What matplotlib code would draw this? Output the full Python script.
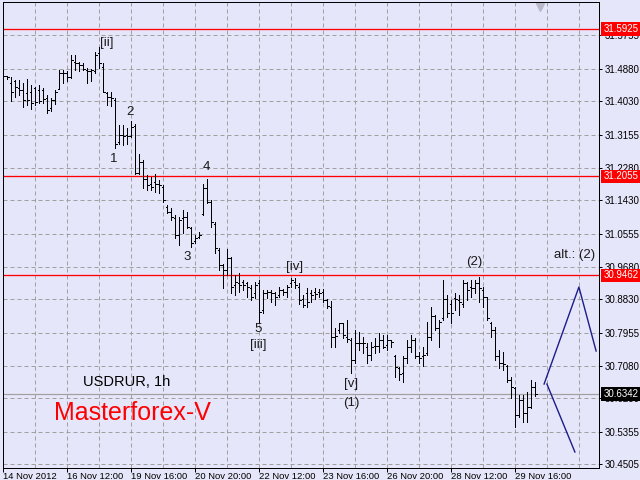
import matplotlib
matplotlib.use('Agg')
import matplotlib.pyplot as plt
import numpy as np

plt.rcParams['font.family'] = ['Liberation Sans', 'DejaVu Sans']

# ---- data (USDRUR, 1h bars) ----
opens = [31.472, 31.468, 31.450, 31.455, 31.437, 31.432, 31.424, 31.428, 31.437, 31.432,
         31.432, 31.411, 31.384, 31.406, 31.434, 31.478, 31.476, 31.467, 31.507, 31.502,
         31.498, 31.485, 31.481, 31.481, 31.529, 31.494, 31.424, 31.415, 31.406, 31.297,
         31.314, 31.314, 31.312, 31.338, 31.214, 31.244, 31.200, 31.187, 31.192, 31.187,
         31.179, 31.126, 31.113, 31.096, 31.052, 31.096, 31.100, 31.069, 31.037, 31.047,
         31.108, 31.174, 31.139, 31.082, 31.012, 30.973, 30.960, 30.991, 30.921, 30.925,
         30.929, 30.925, 30.912, 30.899, 30.925, 30.855, 30.899, 30.903, 30.899, 30.894,
         30.907, 30.903, 30.925, 30.929, 30.916, 30.883, 30.899, 30.900, 30.903, 30.903,
         30.903, 30.881, 30.864, 30.785, 30.802, 30.820, 30.785, 30.776, 30.724, 30.768,
         30.768, 30.759, 30.737, 30.761, 30.761, 30.776, 30.763, 30.776, 30.733, 30.702,
         30.689, 30.728, 30.759, 30.776, 30.733, 30.733, 30.741, 30.785, 30.838, 30.807,
         30.833, 30.885, 30.872, 30.886, 30.881, 30.872, 30.925, 30.916, 30.912, 30.925,
         30.907, 30.888, 30.820, 30.802, 30.733, 30.715, 30.708, 30.671, 30.649, 30.579,
         30.619, 30.584, 30.601, 30.654]
highs = [31.498, 31.469, 31.467, 31.459, 31.459, 31.450, 31.461, 31.446, 31.441, 31.446,
         31.437, 31.419, 31.411, 31.433, 31.485, 31.485, 31.481, 31.524, 31.524, 31.507,
         31.502, 31.489, 31.487, 31.533, 31.546, 31.502, 31.428, 31.428, 31.411, 31.341,
         31.341, 31.332, 31.352, 31.343, 31.265, 31.249, 31.209, 31.205, 31.212, 31.196,
         31.183, 31.131, 31.122, 31.104, 31.100, 31.117, 31.113, 31.074, 31.052, 31.061,
         31.187, 31.200, 31.144, 31.087, 31.017, 30.977, 31.014, 30.995, 30.947, 30.951,
         30.934, 30.929, 30.921, 30.929, 30.934, 30.907, 30.907, 30.907, 30.903, 30.916,
         30.909, 30.921, 30.938, 30.938, 30.925, 30.894, 30.912, 30.907, 30.912, 30.909,
         30.909, 30.883, 30.879, 30.807, 30.820, 30.822, 30.829, 30.781, 30.803, 30.798,
         30.785, 30.768, 30.772, 30.781, 30.794, 30.789, 30.789, 30.776, 30.737, 30.706,
         30.733, 30.776, 30.789, 30.781, 30.746, 30.759, 30.824, 30.864, 30.842, 30.829,
         30.935, 30.894, 30.881, 30.899, 30.894, 30.935, 30.929, 30.934, 30.934, 30.942,
         30.916, 30.890, 30.824, 30.811, 30.750, 30.746, 30.711, 30.680, 30.654, 30.632,
         30.632, 30.641, 30.671, 30.667]
lows = [31.463, 31.460, 31.404, 31.415, 31.419, 31.387, 31.393, 31.382, 31.393, 31.399,
        31.399, 31.373, 31.378, 31.396, 31.434, 31.450, 31.457, 31.463, 31.485, 31.481,
        31.485, 31.452, 31.457, 31.476, 31.489, 31.428, 31.393, 31.391, 31.279, 31.292,
        31.288, 31.292, 31.308, 31.212, 31.212, 31.174, 31.170, 31.170, 31.166, 31.161,
        31.139, 31.109, 31.091, 31.043, 31.026, 31.056, 31.069, 31.021, 31.030, 31.043,
        31.104, 31.135, 31.074, 31.004, 30.960, 30.912, 30.947, 30.899, 30.894, 30.903,
        30.907, 30.890, 30.881, 30.886, 30.820, 30.846, 30.886, 30.877, 30.868, 30.890,
        30.894, 30.890, 30.916, 30.912, 30.872, 30.864, 30.864, 30.877, 30.885, 30.890,
        30.877, 30.859, 30.759, 30.759, 30.794, 30.781, 30.772, 30.689, 30.715, 30.750,
        30.741, 30.715, 30.724, 30.741, 30.746, 30.754, 30.750, 30.759, 30.680, 30.671,
        30.667, 30.715, 30.746, 30.728, 30.715, 30.708, 30.737, 30.776, 30.803, 30.759,
        30.829, 30.837, 30.820, 30.855, 30.842, 30.864, 30.881, 30.890, 30.899, 30.877,
        30.864, 30.829, 30.785, 30.724, 30.702, 30.698, 30.667, 30.623, 30.549, 30.575,
        30.562, 30.562, 30.597, 30.628]
closes = [31.468, 31.467, 31.428, 31.441, 31.432, 31.406, 31.406, 31.397, 31.402, 31.404,
          31.408, 31.380, 31.406, 31.428, 31.476, 31.476, 31.467, 31.511, 31.502, 31.498,
          31.487, 31.481, 31.485, 31.524, 31.504, 31.428, 31.415, 31.411, 31.292, 31.314,
          31.312, 31.312, 31.336, 31.214, 31.244, 31.200, 31.183, 31.179, 31.187, 31.183,
          31.144, 31.113, 31.100, 31.052, 31.091, 31.100, 31.074, 31.030, 31.043, 31.052,
          31.174, 31.139, 31.087, 31.017, 30.973, 30.960, 30.991, 30.916, 30.929, 30.921,
          30.921, 30.916, 30.890, 30.921, 30.850, 30.899, 30.903, 30.899, 30.890, 30.907,
          30.903, 30.916, 30.934, 30.921, 30.881, 30.868, 30.877, 30.894, 30.897, 30.899,
          30.881, 30.865, 30.785, 30.787, 30.820, 30.790, 30.778, 30.724, 30.768, 30.768,
          30.768, 30.737, 30.759, 30.761, 30.776, 30.759, 30.776, 30.772, 30.706, 30.687,
          30.728, 30.759, 30.776, 30.733, 30.728, 30.737, 30.785, 30.838, 30.807, 30.824,
          30.885, 30.846, 30.846, 30.883, 30.877, 30.925, 30.907, 30.912, 30.925, 30.912,
          30.888, 30.833, 30.802, 30.733, 30.715, 30.713, 30.671, 30.654, 30.579, 30.619,
          30.584, 30.601, 30.654, 30.6342]

time_labels = ['14 Nov 2012', '16 Nov 12:00', '19 Nov 16:00', '20 Nov 20:00',
               '22 Nov 12:00', '23 Nov 16:00', '26 Nov 20:00', '28 Nov 12:00',
               '29 Nov 16:00']
price_ticks = [31.5755, 31.4880, 31.4030, 31.3155, 31.2280, 31.1430, 31.0555,
               30.9680, 30.8830, 30.7955, 30.7080, 30.6230, 30.5355, 30.4505]
red_levels = [31.5925, 31.2055, 30.9462]
bid_price = 30.6342

# forecast path (bar index, price)
fc_up_x = [135.2, 143.9, 148.2]
fc_up_y = [30.6607, 30.9153, 30.7474]
fc_dn_x = [135.9, 142.9]
fc_dn_y = [30.6607, 30.4823]

wave_labels = [('[ii]', 25.9, 31.556), ('2', 31.7, 31.3747), ('1', 27.7, 31.2513),
               ('4', 50.7, 31.2303), ('3', 45.9, 30.994), ('[iv]', 72.9, 30.9678),
               ('5', 63.7, 30.805), ('[iii]', 63.7, 30.763), ('[v]', 86.9, 30.660),
               ('(1)', 86.9, 30.611), ('(2)', 117.7, 30.981), ('alt.: (2)', 142.7, 30.9993)]

# ---- figure ----
BG = '#E6E6FA'
fig = plt.figure(figsize=(6.4, 4.8), dpi=100, facecolor=BG)
ax = fig.add_axes([2.5 / 640, 12 / 480, 596 / 640, 466 / 480])
ax.set_facecolor(BG)

n = len(opens)
x = np.arange(n)
px = 0.72  # one pixel in points

# grid
for gx in range(8, 149, 8):
    ax.axvline(gx, color='#A0A0A0', lw=px, ls=(0, (4, 3)), zorder=1)
for gy in price_ticks:
    ax.axhline(gy, color='#A0A0A0', lw=px, ls=(0, (4, 3)), zorder=1)

# levels
for lv in red_levels:
    ax.axhline(lv, color='#FF0000', lw=px * 1.3, zorder=2)
ax.axhline(bid_price, color='#A0A0A0', lw=px * 1.2, zorder=2)

# OHLC bars
ax.vlines(x, lows, highs, color='black', lw=px, zorder=3, antialiased=False)
ax.hlines(opens, x - 0.4, x, color='black', lw=px, zorder=3, antialiased=False)
ax.hlines(closes, x, x + 0.4, color='black', lw=px, zorder=3, antialiased=False)

# forecast
ax.plot(fc_up_x, fc_up_y, color='#1C1C8A', lw=1.0, zorder=3, clip_on=False)
ax.plot(fc_dn_x, fc_dn_y, color='#1C1C8A', lw=1.0, zorder=3, clip_on=False)

# wave labels
for t, lx, ly in wave_labels:
    ax.text(lx, ly, t, fontsize=9.5, color='#1A1A1A', ha='center', va='center', zorder=4)

ax.text(30.9, 30.666, 'USDRUR, 1h', fontsize=10.5, color='black', ha='center', va='center', zorder=4)
ax.text(32.4, 30.5846, 'Masterforex-V', fontsize=18, color='#FF0000', ha='center', va='center', zorder=4)

# chart shift marker
ax.plot([0.902], [0.990], marker='v', ms=6, color='#B8B8C8', transform=ax.transAxes, clip_on=False)

ax.set_xlim(-0.2, 148.8)
ax.set_ylim(30.4403, 31.6634)

ax.yaxis.tick_right()
ax.set_yticks(price_ticks)
ax.set_yticklabels([f'{v:.4f}' for v in price_ticks])
ax.tick_params(axis='y', length=2.2, width=px, pad=2.5, labelsize=7, colors='black')

ax.set_xticks(list(range(0, 16 * len(time_labels), 16)))
ax.set_xticklabels(time_labels, ha='left')
ax.tick_params(axis='x', length=2.8, width=px, pad=0.0, labelsize=6.8, colors='black')

for s in ax.spines.values():
    s.set_color('black')
    s.set_linewidth(px)

# price boxes on the right axis
for lv in red_levels:
    ax.annotate(f'{lv:.4f}', xy=(1, lv), xycoords=('axes fraction', 'data'),
                xytext=(3.4, 0), textcoords='offset points', ha='left', va='center',
                fontsize=7, color='white', zorder=6, annotation_clip=False,
                bbox=dict(boxstyle='square,pad=0.18', fc='#FF0000', ec='none'))
ax.annotate(f'{bid_price:.4f}', xy=(1, bid_price), xycoords=('axes fraction', 'data'),
            xytext=(3.4, 0), textcoords='offset points', ha='left', va='center',
            fontsize=7, color='white', zorder=6, annotation_clip=False,
            bbox=dict(boxstyle='square,pad=0.18', fc='black', ec='none'))

fig.savefig('out.png', dpi=100, facecolor=BG)
